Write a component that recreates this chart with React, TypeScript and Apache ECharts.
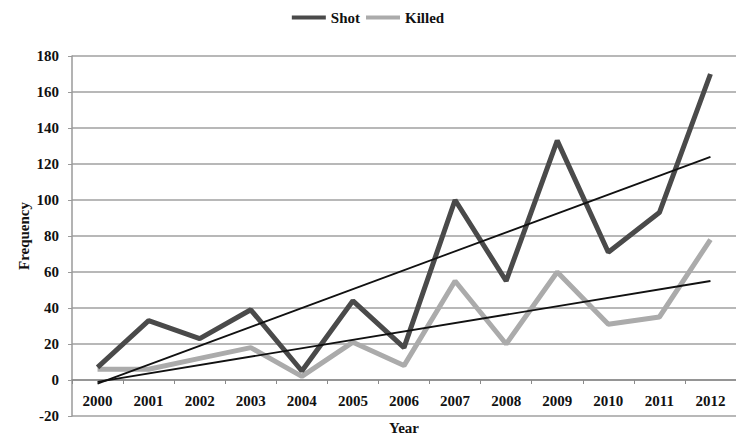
import React, { useEffect, useRef } from "react";
import * as echarts from "echarts";

const years = ["2000","2001","2002","2003","2004","2005","2006","2007","2008","2009","2010","2011","2012"];
const shot = [7, 33, 23, 39, 5, 44, 18, 100, 55, 133, 71, 93, 170];
const killed = [6, 6, 12, 18, 2, 21, 8, 55, 20, 60, 31, 35, 78];
const shotTrend = [-2, 124];
const killedTrend = [-1, 55];
const yTicks = { min: -20, max: 180, interval: 20 };

const FONT = "'Liberation Serif', 'DejaVu Serif', serif";
const GRID_TOP = 56;
const GRID_BOTTOM = 20;
const CHART_H = 436;

export default function App() {
  const ref = useRef<HTMLDivElement>(null);
  useEffect(() => {
    const chart = echarts.init(ref.current!, null, { renderer: "svg" });
    const last = years.length - 1;
    // distance in px from the plot bottom (yTicks.min) up to the zero line
    const plotH = CHART_H - GRID_TOP - GRID_BOTTOM;
    const zeroOffset = (plotH * (0 - yTicks.min)) / (yTicks.max - yTicks.min);
    chart.setOption({
      animation: false,
      backgroundColor: "#ffffff",
      textStyle: { fontFamily: FONT },
      legend: {
        top: 5,
        left: "center",
        itemWidth: 34,
        itemHeight: 4,
        itemGap: 6,
        textStyle: { fontFamily: FONT, fontWeight: "bold", fontSize: 15, color: "#111" },
        data: [
          { name: "Shot", icon: "rect" },
          { name: "Killed", icon: "rect" },
        ],
      },
      grid: { left: 72, right: 0, top: GRID_TOP, bottom: GRID_BOTTOM, containLabel: false, outerBoundsMode: "none" },
      xAxis: {
        type: "category",
        data: years,
        boundaryGap: true,
        offset: -zeroOffset,
        name: "Year",
        nameLocation: "middle",
        nameGap: 40,
        nameMoveOverlap: false,
        nameTextStyle: { fontFamily: FONT, fontWeight: "bold", fontSize: 15, color: "#111" },
        axisLine: { show: true, onZero: false, lineStyle: { color: "#8a8a8a", width: 1.5 } },
        axisTick: { show: true, alignWithLabel: false, length: 4, lineStyle: { color: "#8a8a8a" } },
        axisLabel: { fontFamily: FONT, fontWeight: "bold", fontSize: 15, color: "#111", margin: 13 },
        splitLine: { show: false },
      },
      yAxis: {
        type: "value",
        min: yTicks.min,
        max: yTicks.max,
        interval: yTicks.interval,
        name: "Frequency",
        nameLocation: "middle",
        nameGap: 41,
        nameMoveOverlap: false,
        nameRotate: 90,
        nameTextStyle: { fontFamily: FONT, fontWeight: "bold", fontSize: 15, color: "#111" },
        axisLine: { show: true, lineStyle: { color: "#9a9a9a", width: 1.5 } },
        axisTick: { show: true, length: 4, lineStyle: { color: "#9a9a9a" } },
        axisLabel: { fontFamily: FONT, fontWeight: "bold", fontSize: 15, color: "#111", margin: 13 },
        splitLine: { show: true, lineStyle: { color: "#a0a0a0", width: 1.5 } },
      },
      series: [
        {
          name: "Shot",
          type: "line",
          data: shot,
          symbol: "none",
          color: "#4a4a4a",
          lineStyle: { color: "#4a4a4a", width: 5 },
          z: 3,
        },
        {
          name: "Killed",
          type: "line",
          data: killed,
          symbol: "none",
          color: "#ababab",
          lineStyle: { color: "#ababab", width: 5 },
          z: 2,
        },
        {
          name: "Shot trend",
          type: "line",
          data: [[years[0], shotTrend[0]], [years[last], shotTrend[1]]],
          symbol: "none",
          lineStyle: { color: "#111111", width: 1.8 },
          z: 4,
          silent: true,
        },
        {
          name: "Killed trend",
          type: "line",
          data: [[years[0], killedTrend[0]], [years[last], killedTrend[1]]],
          symbol: "none",
          lineStyle: { color: "#111111", width: 1.8 },
          z: 4,
          silent: true,
        },
      ],
    });
    return () => chart.dispose();
  }, []);
  return (
    <div
      ref={ref}
      style={{ position: "fixed", left: 0, top: 0, width: 736, height: 436 }}
    />
  );
}
